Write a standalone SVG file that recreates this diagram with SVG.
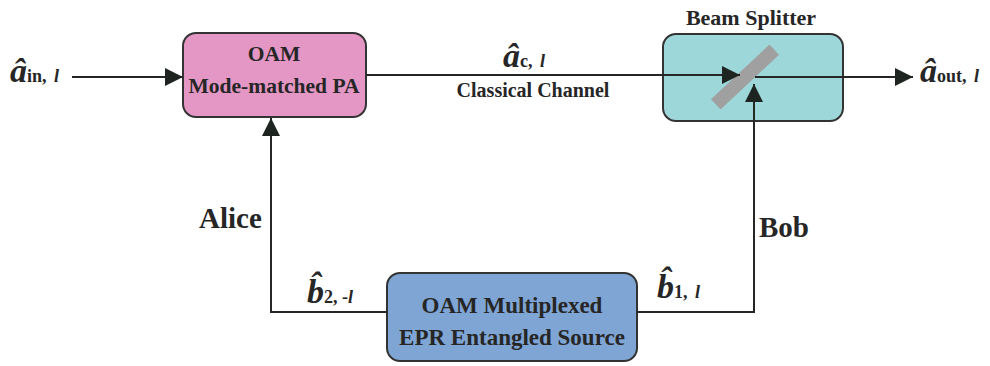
<svg xmlns="http://www.w3.org/2000/svg" width="990" height="366" viewBox="0 0 990 366">
<style>
text{font-family:'Liberation Serif','Tinos','DejaVu Serif',serif;font-weight:bold;fill:#262626}
.box{stroke:#333;stroke-width:2}
.ln{stroke:#262626;stroke-width:2;fill:none}
.bt{font-size:21.5px;text-anchor:middle}
.big{font-size:34px;font-style:italic}
.sub{font-size:18px}
.it{font-style:italic}
.who{font-size:29px}
</style>
<defs>
<marker id="ah" markerWidth="20" markerHeight="20" refX="18" refY="9" orient="auto" markerUnits="userSpaceOnUse">
<path d="M0,0 L18,9 L0,18 z" fill="#1e2420"/>
</marker>
</defs>
<rect width="990" height="366" fill="#fff"/>
<g id="pa">
<rect class="box" x="183" y="33" width="183" height="84" rx="13" fill="#E497C4"/>
<text class="bt" x="274" y="61">OAM</text>
<text class="bt" x="274" y="93">Mode-matched PA</text>
</g>
<g id="bs">
<text x="751" y="25" style="font-size:22px;text-anchor:middle">Beam Splitter</text>
<rect class="box" x="663" y="34" width="180" height="87" rx="13" fill="#9DD7DA"/>
<rect x="705" y="70" width="80" height="14" fill="#A0A0A0" transform="rotate(-43 745 77)"/>
</g>
<g id="src">
<rect class="box" x="387" y="273" width="250" height="88" rx="13" fill="#7FA5D5"/>
<text x="512" y="313" style="font-size:23px;text-anchor:middle">OAM Multiplexed</text>
<text x="512" y="345" style="font-size:23px;text-anchor:middle">EPR Entangled Source</text>
</g>
<g id="connectors">
<line class="ln" x1="72" y1="77" x2="183" y2="77" marker-end="url(#ah)"/>
<line class="ln" x1="366" y1="75" x2="740" y2="75" marker-end="url(#ah)"/>
<line class="ln" x1="755" y1="77" x2="913" y2="77" marker-end="url(#ah)"/>
<polyline class="ln" points="387,312 271,312 271,118" marker-end="url(#ah)"/>
<polyline class="ln" points="637,312 754,312 754,84" marker-end="url(#ah)"/>
</g>
<g id="labels">
<text x="10" y="82"><tspan class="big">â</tspan><tspan class="sub">in, </tspan><tspan class="sub it" dx="3">l</tspan></text>
<text x="503" y="67"><tspan class="big">â</tspan><tspan class="sub">c, </tspan><tspan class="sub it" dx="3">l</tspan></text>
<text x="533" y="97" style="font-size:20px;text-anchor:middle">Classical Channel</text>
<text x="920" y="82"><tspan class="big">â</tspan><tspan class="sub">out, </tspan><tspan class="sub it" dx="3">l</tspan></text>
<text x="199" y="228" class="who">Alice</text>
<text x="759" y="237" class="who">Bob</text>
<text x="307" y="303"><tspan class="big">b̂</tspan><tspan class="sub">2, -</tspan><tspan class="sub it">l</tspan></text>
<text x="657" y="298"><tspan class="big">b̂</tspan><tspan class="sub">1, </tspan><tspan class="sub it" dx="3">l</tspan></text>
</g>
</svg>
